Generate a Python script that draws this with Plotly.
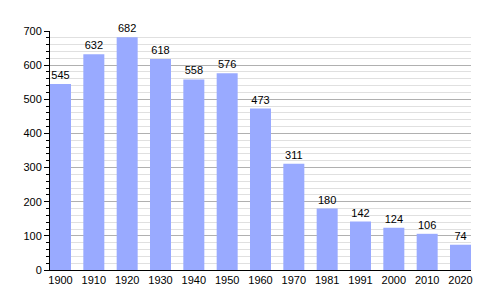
import plotly.graph_objects as go

years = ["1900", "1910", "1920", "1930", "1940", "1950", "1960", "1970", "1981", "1991", "2000", "2010", "2020"]
population = [545, 632, 682, 618, 558, 576, 473, 311, 180, 142, 124, 106, 74]

idx = list(range(len(years)))
w = 0.63

fig = go.Figure(go.Bar(
    x=idx, y=population, width=w,
    marker=dict(color="#99aaff", line=dict(width=0)),
    text=[str(v) for v in population], textposition="outside",
    textfont=dict(color="black", size=11, family="Liberation Sans"),
    cliponaxis=False,
))

fig.update_layout(
    width=500, height=300,
    margin=dict(l=50, r=29, t=31, b=30),
    plot_bgcolor="white", paper_bgcolor="white",
    font=dict(family="Liberation Sans", size=11, color="black"),
    showlegend=False,
    uniformtext=dict(mode=False),
)
fig.update_xaxes(
    range=[-w / 2, len(years) - 1 + w / 2],
    tickmode="array", tickvals=idx, ticktext=years,
    showgrid=False, zeroline=False,
    showline=True, linecolor="black", linewidth=1,
    ticks="", tickfont=dict(size=11),
)
fig.update_yaxes(
    range=[0, 700], dtick=100, tick0=0,
    showgrid=True, gridcolor="#b0b0b0", gridwidth=1,
    zeroline=False,
    showline=True, linecolor="black", linewidth=1,
    ticks="outside", ticklen=5, tickcolor="black",
    minor=dict(dtick=20, showgrid=True, gridcolor="#e0e0e0", gridwidth=1,
               ticks="outside", ticklen=3, tickcolor="black"),
    tickfont=dict(size=11),
)

fig.write_html("out.html")
